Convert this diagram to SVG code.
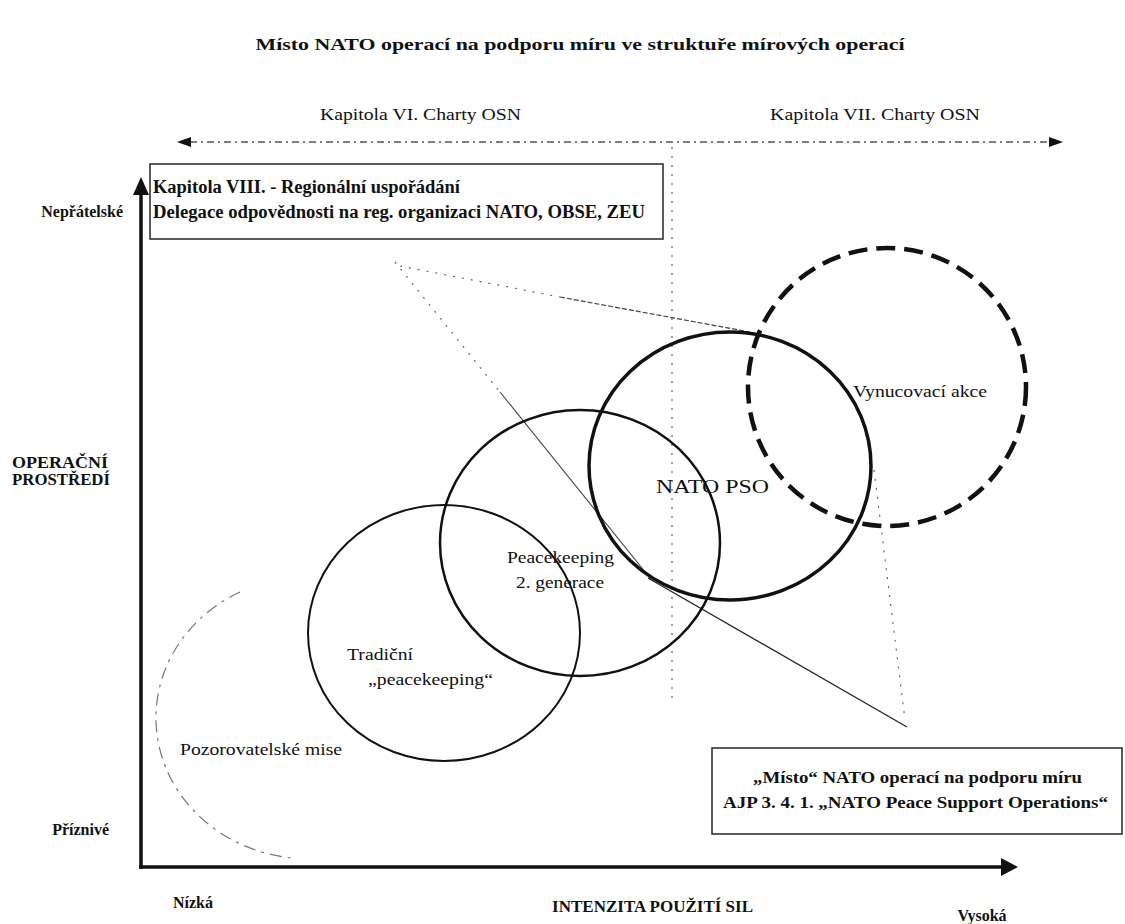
<svg xmlns="http://www.w3.org/2000/svg" width="1125" height="924" viewBox="0 0 1125 924">
<defs>
<style>
text{font-family:"Liberation Serif","Times New Roman",serif;fill:#111;}
.b{font-weight:bold;}
.lbl{font-size:17px;}
.box{fill:#fff;stroke:#333;stroke-width:1.6;}
.ring{fill:none;stroke:#111;}
.dot{fill:none;stroke:#666;stroke-width:1.2;stroke-dasharray:2 7;}
.thin{fill:none;stroke:#333;stroke-width:1.2;}
</style>
<marker id="ah" viewBox="0 0 10 10" refX="9" refY="5" markerWidth="5" markerHeight="5" orient="auto-start-reverse" markerUnits="strokeWidth">
<path d="M0,0 L10,5 L0,10 z" fill="#111"/>
</marker>
<marker id="ahs" viewBox="0 0 10 10" refX="9" refY="5" markerWidth="8" markerHeight="8" orient="auto-start-reverse" markerUnits="strokeWidth">
<path d="M0,0 L10,5 L0,10 z" fill="#222"/>
</marker>
</defs>
<rect width="1125" height="924" fill="#fff"/>

<text x="580" y="50" text-anchor="middle" class="b" font-size="17" textLength="649" lengthAdjust="spacingAndGlyphs">Místo NATO operací na podporu míru ve struktuře mírových operací</text>

<g id="chapters">
<text x="320" y="120" class="lbl" textLength="201" lengthAdjust="spacingAndGlyphs">Kapitola VI. Charty OSN</text>
<text x="770" y="120" class="lbl" textLength="210" lengthAdjust="spacingAndGlyphs">Kapitola VII. Charty OSN</text>
</g>

<g id="connectors">
<line x1="190" y1="142" x2="1050" y2="142" stroke="#555" stroke-width="1.5" stroke-dasharray="7 4 2 4"/>
<path d="M177,142 L191,137 L191,147 z" fill="#111"/>
<path d="M1063,142 L1049,137 L1049,147 z" fill="#111"/>
<line x1="672" y1="147" x2="672" y2="700" class="dot"/>
<line x1="400" y1="266" x2="560" y2="297" class="dot"/>
<line x1="560" y1="297" x2="750" y2="332" stroke="#444" stroke-width="1.2" stroke-dasharray="5 2"/>
<line x1="395" y1="262" x2="500" y2="392" class="dot"/>
<line x1="500" y1="392" x2="650" y2="578" stroke="#444" stroke-width="1.1"/>
<line x1="648" y1="578" x2="907" y2="727" stroke="#222" stroke-width="1.3"/>
<line x1="874" y1="470" x2="905" y2="720" class="dot"/>
<line x1="141" y1="869" x2="141" y2="192" stroke="#111" stroke-width="3.5"/>
<path d="M141,177 L133,195 L149,195 z" fill="#111"/>
<line x1="139" y1="867" x2="1003" y2="867" stroke="#111" stroke-width="3.5"/>
<path d="M1018,867 L1001,858 L1001,876 z" fill="#111"/>
</g>

<g id="axis-labels" class="b">
<text x="123" y="217" text-anchor="end" font-size="16" class="b">Nepřátelské</text>
<text x="12" y="468" font-size="17" class="b" textLength="96" lengthAdjust="spacingAndGlyphs">OPERAČNÍ</text>
<text x="12" y="485" font-size="17" class="b" textLength="98" lengthAdjust="spacingAndGlyphs">PROSTŘEDÍ</text>
<text x="109" y="835" text-anchor="end" font-size="16" class="b">Příznivé</text>
<text x="193" y="908" text-anchor="middle" font-size="16" class="b">Nízká</text>
<text x="753" y="912" text-anchor="end" font-size="17" class="b">INTENZITA POUŽITÍ SIL</text>
<text x="982" y="921" text-anchor="middle" font-size="16" class="b">Vysoká</text>
</g>

<g id="node-chapter8">
<rect x="150" y="164" width="513" height="75" class="box"/>
<text x="153" y="193" font-size="18" class="b" textLength="307" lengthAdjust="spacingAndGlyphs">Kapitola VIII. - Regionální uspořádání</text>
<text x="153" y="218" font-size="18" class="b" textLength="492" lengthAdjust="spacingAndGlyphs">Delegace odpovědnosti na reg. organizaci NATO, OBSE, ZEU</text>
</g>

<g id="node-observer">
<path d="M240,592 A153,141 0 0 0 292,858" fill="none" stroke="#777" stroke-width="1.2" stroke-dasharray="12 6 3 6"/>
<text x="180" y="755" font-size="16" textLength="162" lengthAdjust="spacingAndGlyphs">Pozorovatelské mise</text>
</g>

<g id="node-traditional">
<ellipse cx="444" cy="633" rx="136" ry="128" class="ring" stroke-width="2"/>
<text x="347" y="660" font-size="16" textLength="66" lengthAdjust="spacingAndGlyphs">Tradiční</text>
<text x="368" y="685" font-size="16" textLength="125" lengthAdjust="spacingAndGlyphs">„peacekeeping“</text>
</g>

<g id="node-pk2">
<ellipse cx="580" cy="543" rx="140" ry="133" class="ring" stroke-width="2.5"/>
<text x="507" y="563" font-size="16" textLength="107" lengthAdjust="spacingAndGlyphs">Peacekeeping</text>
<text x="516" y="588" font-size="16" textLength="88" lengthAdjust="spacingAndGlyphs">2. generace</text>
</g>

<g id="node-nato-pso">
<ellipse cx="730" cy="466" rx="141" ry="134" class="ring" stroke-width="3.5"/>
<text x="656" y="493" font-size="19" textLength="113" lengthAdjust="spacingAndGlyphs">NATO PSO</text>
</g>

<g id="node-enforcement">
<circle cx="887" cy="387" r="139" class="ring" stroke-width="4.5" stroke-dasharray="19 9"/>
<text x="853" y="397" font-size="16" textLength="134" lengthAdjust="spacingAndGlyphs">Vynucovací akce</text>
</g>

<g id="node-place">
<rect x="712" y="748" width="410" height="86" class="box"/>
<text x="753" y="783" font-size="17" class="b" textLength="329" lengthAdjust="spacingAndGlyphs">„Místo“ NATO operací na podporu míru</text>
<text x="723" y="808" font-size="17" class="b" textLength="385" lengthAdjust="spacingAndGlyphs">AJP 3. 4. 1.  „NATO Peace Support Operations“</text>
</g>
</svg>
